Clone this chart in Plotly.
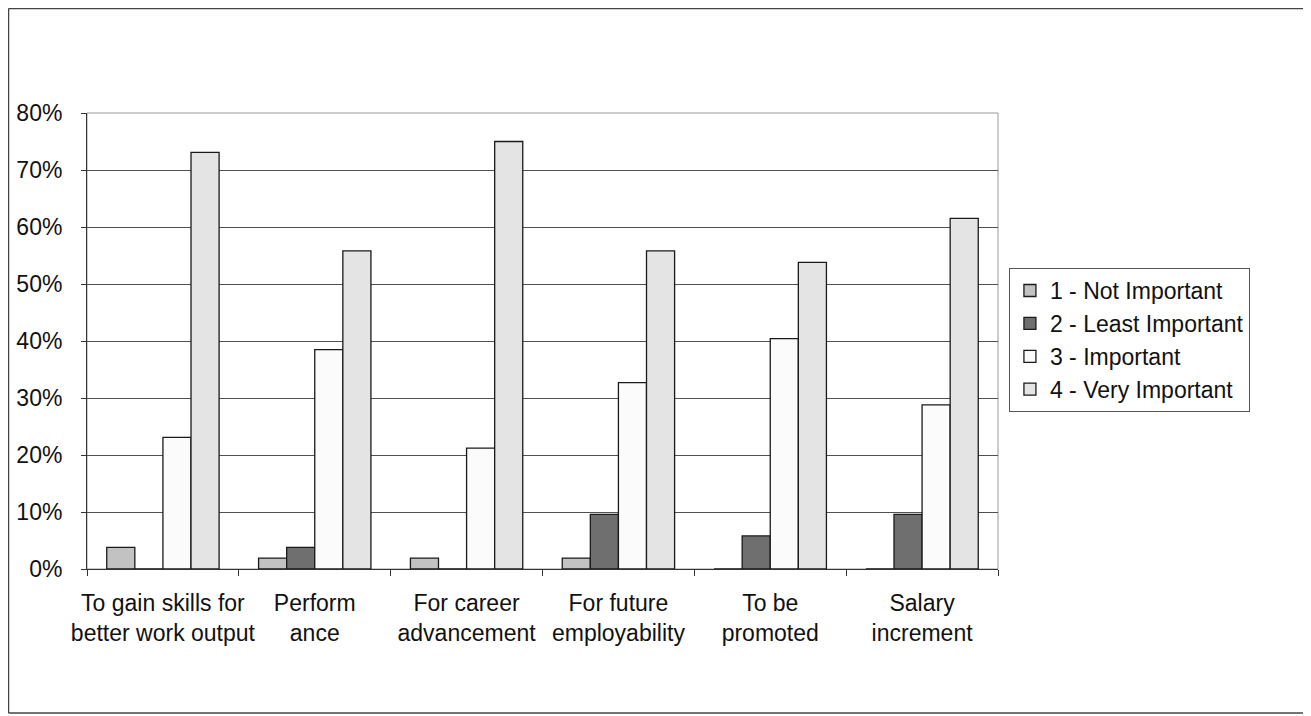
import plotly.graph_objects as go

categories = [
    "To gain skills for<br>better work output",
    "Perform<br>ance",
    "For career<br>advancement",
    "For future<br>employability",
    "To be<br>promoted",
    "Salary<br>increment",
]
series_names = ["1 - Not Important", "2 - Least Important", "3 - Important", "4 - Very Important"]
not_important = [0.038, 0.019, 0.019, 0.019, 0.0, 0.0]
least_important = [0.0, 0.038, 0.0, 0.096, 0.058, 0.096]
important = [0.231, 0.385, 0.212, 0.327, 0.404, 0.288]
very_important = [0.731, 0.558, 0.750, 0.558, 0.538, 0.615]
y_ticks = [0, 0.1, 0.2, 0.3, 0.4, 0.5, 0.6, 0.7, 0.8]

series_values = [not_important, least_important, important, very_important]
colors = ["#c2c2c2", "#6f6f6f", "#fbfbfb", "#e4e4e4"]

fig = go.Figure()
for name, vals, col in zip(series_names, series_values, colors):
    fig.add_trace(go.Bar(
        x=categories, y=vals, name=name,
        marker=dict(color=col, line=dict(color="#1a1a1a", width=1.3)),
    ))

FONT = "Liberation Sans, Arial, sans-serif"
W, H = 1311, 716
L, T, PW, PH = 79, 105, 911, 456
# outer frame (left, top, bottom edges) in paper coordinates
fx0 = (0.5 - L) / PW
fx1 = (W - L) / PW
fy0 = -(705 - T - PH) / PH
fy1 = 1 + (T - 0.5) / PH
frame = dict(color="#444444", width=1.5)

fig.update_layout(
    barmode="group",
    bargap=0.26,
    bargroupgap=0,
    width=W, height=H,
    margin=dict(l=L, r=W - L - PW, t=T, b=H - T - PH),
    paper_bgcolor="white",
    plot_bgcolor="white",
    font=dict(family=FONT, size=22, color="#111111"),
    showlegend=True,
    legend=dict(
        x=1.012, y=0.66, xanchor="left", yanchor="top",
        bordercolor="#555555", borderwidth=1,
        bgcolor="white",
        font=dict(family=FONT, size=23, color="#111111"),
        itemwidth=30, tracegroupgap=0,
    ),
    xaxis=dict(
        automargin=False,
        showgrid=False,
        showline=True, linecolor="#333333", linewidth=1,
        ticks="outside", tickson="boundaries", ticklen=6, tickcolor="#333333",
        tickangle=0,
        tickfont=dict(family=FONT, size=23, color="#111111"),
        ticklabelstandoff=13,
    ),
    yaxis=dict(
        automargin=False,
        range=[0, 0.8],
        tickvals=y_ticks,
        tickformat=".0%",
        showgrid=True, gridcolor="#505050", gridwidth=1,
        showline=True, linecolor="#333333", linewidth=1,
        ticks="outside", ticklen=5, tickcolor="#333333",
        zeroline=False,
        tickfont=dict(family=FONT, size=23, color="#111111"),
        ticklabelstandoff=14,
    ),
    shapes=[
        dict(type="rect", xref="paper", yref="paper", x0=0, x1=1, y0=0, y1=1,
             line=dict(color="#999999", width=1), layer="below"),
        dict(type="line", xref="paper", yref="paper", x0=fx0, x1=fx0, y0=fy0, y1=fy1, line=frame),
        dict(type="line", xref="paper", yref="paper", x0=fx0, x1=fx1, y0=fy1, y1=fy1, line=frame),
        dict(type="line", xref="paper", yref="paper", x0=fx0, x1=fx1, y0=fy0, y1=fy0, line=frame),
    ],
)

fig.write_html("out.html")
